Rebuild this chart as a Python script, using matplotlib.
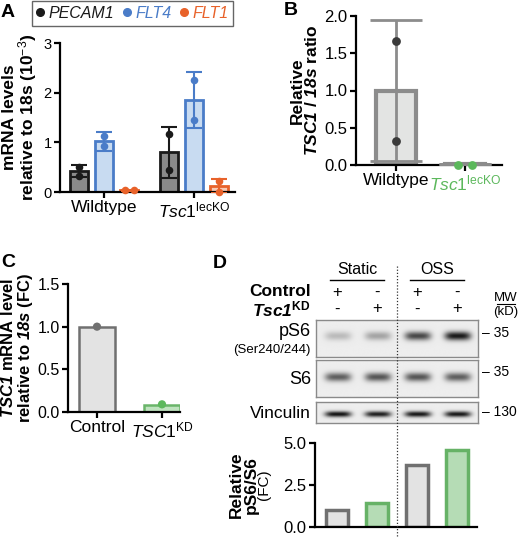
import numpy as np
import matplotlib
matplotlib.use("Agg")
import matplotlib.pyplot as plt
from matplotlib.lines import Line2D

plt.rcParams['font.family'] = ['Liberation Sans', 'DejaVu Sans']
plt.rcParams['mathtext.fontset'] = 'custom'
plt.rcParams['mathtext.rm'] = 'Liberation Sans'
plt.rcParams['mathtext.it'] = 'Liberation Sans:italic'
plt.rcParams['mathtext.bf'] = 'Liberation Sans:bold'
plt.rcParams['mathtext.bfit'] = 'Liberation Sans:italic:bold'
plt.rcParams['axes.linewidth'] = 1.6

W, H = 520, 537

# ---- panel A: mRNA levels (two animals per group)
a_groups = ['Wildtype', r'$\mathit{Tsc1}^{\mathrm{lecKO}}$']
a_genes = ['PECAM1', 'FLT4', 'FLT1']
a_mean = [[0.42, 0.80], [1.02, 1.85], [0.04, 0.12]]
a_err = [[0.12, 0.51], [0.19, 0.57], [0.01, 0.14]]
a_pts = [[[0.33, 0.50], [1.17, 0.44]],
         [[1.12, 0.93], [2.25, 1.45]],
         [[0.05, 0.05], [0.22, 0.01]]]

# ---- panel B: relative TSC1/18s
b_groups = ['Wildtype', r'$\mathit{Tsc1}^{\mathrm{lecKO}}$']
b_mean = [1.0, 0.01]
b_err = [0.95, 0.0]
b_pts = [[1.67, 0.32], [0.0, 0.0]]

# ---- panel C: TSC1 knockdown
c_groups = ['Control', r'$\mathit{TSC1}^{\mathrm{KD}}$']
c_mean = [1.0, 0.08]
c_pts = [1.0, 0.09]

# ---- panel D: western blot + quantification
d_conditions = ['Static', 'OSS']
d_control = ['+', '-', '+', '-']
d_tsc1kd = ['-', '+', '-', '+']
d_blots = ['pS6', 'S6', 'Vinculin']
d_mw = ['35', '35', '130']
d_band = {'pS6': [0.22, 0.32, 0.72, 0.92],
          'S6': [0.62, 0.66, 0.66, 0.62],
          'Vinculin': [0.95, 0.90, 0.93, 0.93]}
d_ratio = [1.0, 1.45, 3.72, 4.6]

GREEN = '#5cb85c'


def px(l, t, r, b):
    return [l / W, 1 - b / H, (r - l) / W, (b - t) / H]


def style(ax, ytick_fs):
    for s in ['top', 'right']:
        ax.spines[s].set_visible(False)
    ax.tick_params(axis='both', width=1.6, length=4, pad=2)
    ax.tick_params(axis='y', labelsize=ytick_fs)
    ax.tick_params(axis='x', labelsize=12.5)


fig = plt.figure(figsize=(W / 100, H / 100), dpi=100)

# ---------------- A
axA = fig.add_axes(px(60, 43, 235, 192))
a_fill = ['#8a8a8a', '#c8dbf1', '#f7c9b4']
a_edge = ['#1a1a1a', '#4a7cc8', '#e8622a']
offs = np.array([-25, 0, 25]) / 90
for k in range(3):
    xs = np.arange(2) + offs[k]
    axA.bar(xs, a_mean[k], width=0.19, color=a_fill[k], edgecolor=a_edge[k],
            linewidth=2, zorder=2)
    axA.errorbar(xs, a_mean[k], yerr=a_err[k], fmt='none', ecolor=a_edge[k],
                 elinewidth=1.5, capsize=6, capthick=1.5, zorder=3)
    for g in range(2):
        p = a_pts[k][g]
        dx = np.array([0, 0]) if abs(p[0] - p[1]) > 0.05 else np.array([-0.05, 0.05])
        axA.scatter(xs[g] + dx, p, s=30, color=a_edge[k], zorder=4, linewidths=0,
                    clip_on=False)
axA.set_xlim(-44 / 90, 131 / 90)
axA.set_ylim(0, 3)
axA.set_yticks([0, 1, 2, 3])
axA.set_xticks([0, 1], a_groups)
style(axA, 10.5)
axA.set_ylabel('mRNA levels\nrelative to 18s (10$^{-3}$)', fontsize=12.5,
               fontweight='bold', labelpad=3, linespacing=0.95)

handles = [Line2D([], [], marker='o', ls='', color=c, markersize=5.5) for c in a_edge]
leg = fig.legend(handles, a_genes, loc='upper left', bbox_to_anchor=(32 / W, 1 - 1 / H),
                 ncol=3, frameon=True, fancybox=False, edgecolor='#666666', framealpha=1,
                 handlelength=0.45, handletextpad=0.3, columnspacing=0.55, borderpad=0.3,
                 borderaxespad=0, prop={'style': 'italic', 'size': 11.5}, labelcolor=a_edge)
leg.get_frame().set_linewidth(1)

# ---------------- B
axB = fig.add_axes(px(356, 16, 502, 165))
axB.bar([0, 1], b_mean, width=0.58, color='#e3e4e3', edgecolor='#8c8c8c',
        linewidth=3, zorder=2)
axB.errorbar([0, 1], b_mean, yerr=b_err, fmt='none', ecolor='#8c8c8c',
             elinewidth=2, capsize=19, capthick=2, zorder=3)
axB.scatter([0, 0], b_pts[0], s=40, color='#3a3a3a', zorder=4, linewidths=0)
axB.scatter([0.9, 1.1], b_pts[1], s=40, color=GREEN, zorder=4, linewidths=0, clip_on=False)
axB.set_xlim(-40 / 69, 106 / 69)
axB.set_ylim(0, 2)
axB.set_yticks([0, 0.5, 1.0, 1.5, 2.0], ['0.0', '0.5', '1.0', '1.5', '2.0'])
axB.set_xticks([0, 1], b_groups)
axB.get_xticklabels()[1].set_color(GREEN)
style(axB, 12)
axB.set_ylabel('Relative\n$\\mathbfit{TSC1}$ / $\\mathbfit{18s}$ ratio', fontsize=12.5,
               fontweight='bold', labelpad=3, linespacing=0.95)

# ---------------- C
axC = fig.add_axes(px(68, 284, 180, 412))
axC.bar([0, 1], c_mean, width=0.54, color=['#e3e3e3', '#bfe3bf'],
        edgecolor=['#707070', '#6ab56a'], linewidth=1.8, zorder=2)
axC.scatter([0, 1], c_pts, color=['#707070', GREEN], s=35, zorder=3, linewidths=0)
axC.set_xlim(-29 / 65, 83 / 65)
axC.set_ylim(0, 1.5)
axC.set_yticks([0, 0.5, 1.0, 1.5], ['0.0', '0.5', '1.0', '1.5'])
axC.set_xticks([0, 1], c_groups)
style(axC, 11.5)
axC.set_ylabel('$\\mathbfit{TSC1}$ mRNA level\nrelative to $\\mathbfit{18s}$ (FC)',
               fontsize=12, fontweight='bold', labelpad=2, linespacing=0.95)

# ---------------- D quantification
axD = fig.add_axes(px(315, 443, 477, 527))
axD.bar(range(4), d_ratio, width=0.53, color=['#e3e3e3', '#b5dcb5'] * 2,
        edgecolor=['#707070', '#66b266'] * 2, linewidth=2.5, zorder=2)
axD.set_xlim(-22 / 40, 140 / 40)
axD.set_ylim(0, 5)
axD.set_yticks([0, 2.5, 5.0], ['0.0', '2.5', '5.0'])
axD.set_xticks([])
style(axD, 12)

# ---------------- D blots
box_px = {'pS6': (320, 357), 'S6': (360, 397), 'Vinculin': (402, 423)}
band_y = {'pS6': (0.43, 0.12), 'S6': (0.46, 0.12), 'Vinculin': (0.58, 0.14)}
x0, x1 = axD.get_xlim()
for name in d_blots:
    t, b = box_px[name]
    axb = fig.add_axes(px(316, t, 478, b))
    xx = np.linspace(x0, x1, 330)
    yy = np.linspace(0, 1, 80)
    X, Y = np.meshgrid(xx, yy)
    img = np.full(X.shape, 0.93)
    yc, hw = band_y[name]
    for i, inten in enumerate(d_band[name]):
        img -= inten * 0.9 * np.exp(-(np.abs(X - i) / 0.33) ** 4) * np.exp(-((Y - yc) / hw) ** 2)
    axb.imshow(img, cmap='gray', vmin=0, vmax=1, extent=(x0, x1, 1, 0), aspect='auto')
    axb.set_xticks([])
    axb.set_yticks([])
    for s in axb.spines.values():
        s.set_color('#8a8a8a')
        s.set_linewidth(1)

# ---------------- overlay for free text
ov = fig.add_axes([0, 0, 1, 1], zorder=10)
ov.set_xlim(0, W)
ov.set_ylim(H, 0)
ov.axis('off')

lane_x = [axD.transData.transform((i, 0))[0] for i in range(4)]

for lab, (x, y) in zip('ABCD', [(1, 4), (284, 2), (1, 254), (213, 255)]):
    ov.text(x, y, lab, fontsize=14, fontweight='bold', va='top', ha='left')

for j, cond in enumerate(d_conditions):
    xc = (lane_x[2 * j] + lane_x[2 * j + 1]) / 2
    ov.text(xc, 270, cond, fontsize=11.5, ha='center', va='center')
    ov.plot([xc - 27, xc + 27], [280, 280], color='k', lw=1)

for i in range(4):
    ov.text(lane_x[i], 292, d_control[i], fontsize=12, ha='center', va='center')
    ov.text(lane_x[i], 309, d_tsc1kd[i], fontsize=12, ha='center', va='center')

ov.text(311, 292, 'Control', fontsize=12.5, fontweight='bold', ha='right', va='center')
ov.text(311, 309, '$\\mathbfit{Tsc1}^{\\mathbf{KD}}$', fontsize=12.5, ha='right', va='center')
ov.text(311, 332, 'pS6', fontsize=13, ha='right', va='center')
ov.text(311, 350, '(Ser240/244)', fontsize=9.5, ha='right', va='center')
ov.text(311, 379, 'S6', fontsize=13, ha='right', va='center')
ov.text(311, 413, 'Vinculin', fontsize=12.5, ha='right', va='center')

ov.text(506, 298, 'MW', fontsize=9.5, ha='center', va='center')
ov.plot([497, 515], [304, 304], color='k', lw=0.8)
ov.text(506, 312, '(kD)', fontsize=9.5, ha='center', va='center')
mw_y = [333, 372, 412]
for m, y in zip(d_mw, mw_y):
    ov.text(482, y, '– ' + m, fontsize=10, ha='left', va='center')

xm = (lane_x[1] + lane_x[2]) / 2
ov.plot([xm, xm], [266, 537], color='#333333', lw=0.9, ls=(0, (1, 1.5)))

ov.text(236, 485, 'Relative', fontsize=12.5, fontweight='bold', rotation=90,
        ha='center', va='center')
ov.text(251, 485, 'pS6/S6', fontsize=12.5, fontweight='bold', rotation=90,
        ha='center', va='center')
ov.text(264, 485, '(FC)', fontsize=11, rotation=90, ha='center', va='center')

fig.savefig('out.png', dpi=100)
